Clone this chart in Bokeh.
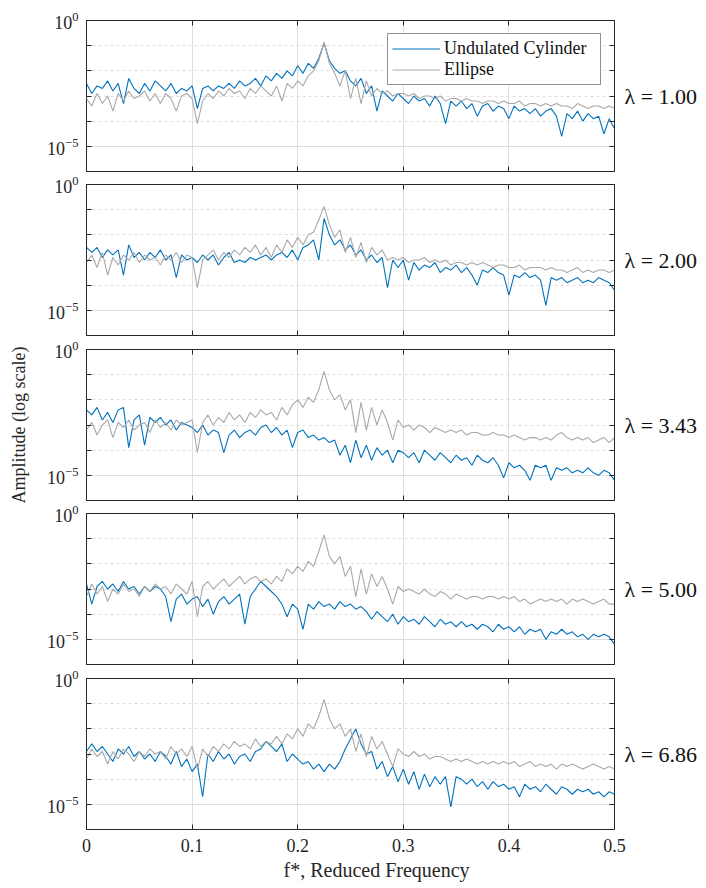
import numpy as np
from bokeh.plotting import figure
from bokeh.layouts import column
from bokeh.models import (FixedTicker, LogAxis, LinearAxis, Legend, LegendItem, Title,
                          CustomJSTickFormatter, Range1d)
from bokeh.embed import file_html
from bokeh.resources import INLINE

# reduced frequency grid (0 .. 0.5)
FREQ = [round(0.005 * i, 3) for i in range(101)]
LAMBDAS = ["1.00", "2.00", "3.43", "5.00", "6.86"]
X_TICKS = [0, 0.1, 0.2, 0.3, 0.4, 0.5]

# log10 of amplitude
UND_1 = [-2.5, -2.9, -2.6, -2.7, -2.4, -2.8, -2.5, -3.3, -2.3, -2.7,
         -2.9, -2.5, -2.8, -2.4, -2.6, -2.8, -2.5, -2.9, -2.7, -2.8,
         -2.6, -3.5, -2.7, -2.6, -2.8, -2.6, -2.7, -2.5, -2.7, -2.4,
         -2.6, -2.5, -2.3, -2.6, -2.2, -2.4, -2.1, -2.3, -2.0, -2.2,
         -1.8, -2.1, -1.7, -1.9, -1.5, -0.9, -1.6, -1.9, -2.1, -2.0,
         -2.4, -2.6, -2.3, -2.9, -2.6, -3.6, -2.8, -3.0, -3.2, -2.9,
         -3.1, -3.3, -3.0, -3.2, -3.1, -3.4, -3.0, -3.3, -4.1, -3.2,
         -3.4, -3.2, -3.5, -3.3, -3.8, -3.4, -3.3, -3.6, -3.4, -3.5,
         -3.9, -3.4, -3.6, -3.5, -3.7, -3.5, -3.8, -3.6, -3.5, -3.8,
         -4.6, -3.7, -3.9, -3.6, -4.0, -3.7, -3.9, -3.8, -4.5, -3.9,
         -4.3]
ELL_1 = [-3.1, -3.4, -2.9, -3.3, -3.0, -3.6, -2.9, -3.2, -2.8, -3.1,
         -3.0, -2.8, -3.2, -2.9, -3.3, -2.9, -3.1, -3.6, -3.0, -2.9,
         -3.1, -4.1, -3.2, -2.9, -3.1, -2.8, -3.0, -2.7, -2.9, -2.8,
         -3.1, -2.7, -2.9, -2.6, -2.8, -3.0, -2.6, -3.2, -2.5, -2.7,
         -2.4, -2.6, -2.2, -2.0, -1.6, -0.85, -1.7, -2.1, -2.6, -2.0,
         -3.1, -2.3, -3.3, -2.4, -3.0, -2.7, -2.9, -2.8, -3.0, -2.9,
         -2.9, -3.0, -2.9, -3.1, -3.0, -3.0, -3.1, -3.0, -3.2, -3.1,
         -3.1, -3.2, -3.1, -3.2, -3.2, -3.3, -3.2, -3.2, -3.3, -3.2,
         -3.3, -3.3, -3.2, -3.4, -3.3, -3.3, -3.4, -3.3, -3.4, -3.3,
         -3.4, -3.4, -3.5, -3.3, -3.4, -3.5, -3.4, -3.4, -3.5, -3.4,
         -3.5]
UND_2 = [-2.5, -2.7, -2.5, -2.9, -2.6, -2.8, -2.6, -3.6, -2.4, -2.9,
         -2.7, -3.0, -2.7, -2.9, -2.6, -3.0, -2.8, -3.7, -2.8, -3.0,
         -2.9, -3.1, -2.8, -3.0, -2.8, -3.2, -2.9, -2.7, -3.1, -3.0,
         -3.1, -2.9, -3.0, -2.9, -2.8, -3.0, -2.8, -2.7, -2.9, -2.6,
         -3.0, -2.5, -2.4, -2.2, -3.0, -1.35, -2.0, -2.4, -2.2, -2.6,
         -2.4, -2.8, -2.6, -3.0, -2.8, -3.1, -2.9, -4.1, -3.0, -3.3,
         -3.0, -3.8, -3.1, -3.4, -3.2, -3.3, -3.1, -3.5, -3.3, -3.4,
         -3.2, -3.5, -3.3, -3.6, -4.0, -3.4, -3.5, -3.3, -3.5, -3.6,
         -4.4, -3.6, -3.7, -3.5, -3.7, -3.6, -3.8, -4.8, -3.7, -3.8,
         -3.7, -3.9, -3.8, -3.7, -3.9, -3.8, -3.9, -3.7, -3.8, -3.9,
         -4.2]
ELL_2 = [-3.1, -2.8, -3.3, -2.7, -3.6, -2.9, -3.2, -2.8, -3.0, -2.7,
         -3.1, -2.8, -3.0, -2.9, -3.2, -2.8, -3.0, -2.7, -3.1, -2.8,
         -2.9, -4.1, -3.0, -2.8, -2.6, -3.0, -2.7, -2.9, -2.6, -2.8,
         -2.5, -2.7, -2.4, -2.8, -2.5, -2.9, -2.4, -2.7, -2.2, -2.5,
         -2.1, -2.4, -2.0, -1.9, -1.4, -0.87, -1.6, -2.1, -1.8, -2.7,
         -2.1, -2.9, -2.3, -3.1, -2.5, -2.8, -2.6, -3.0, -2.9, -3.0,
         -2.9, -3.1, -3.0, -3.0, -2.9, -3.1, -3.0, -3.1, -3.0, -3.2,
         -3.1, -3.1, -3.2, -3.1, -3.2, -3.1, -3.2, -3.3, -3.2, -3.2,
         -3.3, -3.3, -3.2, -3.4, -3.3, -3.3, -3.3, -3.4, -3.3, -3.4,
         -3.4, -3.5, -3.4, -3.3, -3.5, -3.4, -3.5, -3.4, -3.4, -3.5,
         -3.4]
UND_3 = [-2.4, -2.6, -2.3, -2.8, -2.5, -2.9, -2.4, -2.3, -3.9, -2.8,
         -2.6, -3.8, -2.7, -2.9, -2.7, -3.0, -2.8, -3.2, -2.9, -3.0,
         -3.1, -3.3, -3.0, -3.4, -3.2, -3.3, -4.1, -3.4, -3.2, -3.5,
         -3.3, -3.2, -3.4, -3.1, -3.0, -3.3, -3.1, -3.4, -3.2, -3.9,
         -3.3, -3.2, -3.5, -3.4, -3.6, -3.5, -3.7, -3.6, -4.2, -3.8,
         -4.5, -3.6, -4.3, -3.8, -4.4, -3.9, -4.2, -4.0, -4.5, -4.0,
         -4.1, -4.3, -4.1, -4.5, -4.0, -4.2, -4.4, -4.1, -4.3, -4.5,
         -4.2, -4.4, -4.3, -4.6, -4.2, -4.4, -4.5, -4.3, -4.6, -5.1,
         -4.5, -4.7, -4.6, -4.8, -5.2, -4.6, -4.7, -4.6, -5.2, -4.7,
         -4.8, -4.7, -4.9, -4.8, -4.9, -4.7, -4.9, -5.0, -4.8, -4.9,
         -5.2]
ELL_3 = [-3.2, -2.9, -3.4, -3.0, -2.8, -3.5, -2.9, -3.1, -2.8, -3.2,
         -3.0, -2.9, -3.3, -2.8, -3.1, -2.9, -3.2, -2.8, -3.0, -2.9,
         -2.8, -4.1, -2.9, -2.6, -3.0, -2.7, -2.9, -2.5, -2.8, -2.6,
         -2.9, -2.5, -2.7, -2.4, -2.6, -2.5, -2.8, -2.3, -2.6, -2.2,
         -2.0, -2.3, -1.9, -2.1, -1.6, -0.87, -1.6, -2.0, -1.8, -2.4,
         -2.0, -3.3, -2.1, -3.2, -2.3, -3.0, -2.4, -2.9, -3.6, -2.8,
         -3.1, -3.0, -3.2, -3.0, -3.1, -3.3, -3.1, -3.2, -3.3, -3.2,
         -3.3, -3.2, -3.4, -3.3, -3.3, -3.4, -3.4, -3.3, -3.4, -3.4,
         -3.5, -3.4, -3.5, -3.6, -3.5, -3.5, -3.6, -3.5, -3.6, -3.4,
         -3.3, -3.5, -3.6, -3.5, -3.6, -3.5, -3.7, -3.6, -3.5, -3.7,
         -3.5]
UND_4 = [-2.8, -3.6, -2.9, -2.7, -3.0, -2.8, -3.1, -2.7, -3.0, -2.9,
         -3.2, -2.9, -3.1, -2.9, -3.0, -3.3, -4.3, -3.4, -3.2, -3.6,
         -3.4, -3.3, -3.7, -3.4, -4.0, -3.5, -3.3, -3.6, -3.4, -3.2,
         -4.4, -3.3, -3.0, -2.7, -2.9, -3.1, -3.3, -3.6, -4.1, -3.6,
         -3.8, -4.6, -3.6, -3.8, -3.5, -3.7, -3.6, -3.8, -3.5, -3.7,
         -3.6, -3.8, -3.7, -3.9, -4.2, -3.9, -4.1, -4.3, -4.0, -4.4,
         -4.1, -4.3, -4.2, -4.4, -4.1, -4.3, -4.5, -4.2, -4.4, -4.3,
         -4.5, -4.3, -4.5, -4.4, -4.6, -4.4, -4.5, -4.7, -4.4, -4.6,
         -4.5, -4.7, -4.5, -4.8, -4.6, -4.7, -4.6, -5.0, -4.7, -4.8,
         -4.6, -4.8, -4.7, -4.9, -4.8, -5.0, -4.8, -4.9, -4.8, -4.9,
         -5.2]
ELL_4 = [-3.3, -2.8, -3.2, -2.9, -3.5, -3.0, -3.2, -2.8, -3.1, -3.0,
         -3.3, -2.9, -3.1, -2.8, -3.0, -2.9, -3.2, -2.8, -3.0, -3.2,
         -2.7, -4.1, -2.9, -2.7, -3.0, -2.8, -2.6, -2.9, -2.7, -2.5,
         -2.8, -2.6, -2.5, -2.7, -2.6, -2.8, -2.5, -2.7, -2.2, -2.4,
         -2.1, -2.3, -1.9, -2.1, -1.5, -0.85, -1.7, -2.0, -1.7, -2.5,
         -2.1, -3.3, -2.2, -3.2, -2.4, -2.9, -2.5, -3.0, -3.6, -2.9,
         -3.1, -3.0, -3.1, -3.2, -3.0, -3.2, -3.3, -3.1, -3.2, -3.4,
         -3.2, -3.3, -3.4, -3.3, -3.3, -3.4, -3.3, -3.3, -3.4, -3.3,
         -3.4, -3.3, -3.5, -3.4, -3.6, -3.5, -3.4, -3.5, -3.4, -3.5,
         -3.4, -3.6, -3.4, -3.5, -3.4, -3.5, -3.6, -3.5, -3.4, -3.6,
         -3.6]
UND_5 = [-2.9, -2.6, -2.9, -2.7, -3.0, -3.3, -2.8, -3.0, -2.7, -3.1,
         -2.9, -3.2, -3.0, -3.3, -2.9, -3.1, -3.4, -2.9, -3.5, -3.2,
         -3.7, -3.4, -4.7, -3.0, -3.3, -2.9, -3.2, -3.0, -3.4, -3.1,
         -3.0, -3.3, -2.9, -2.8, -2.5, -2.7, -2.9, -2.6, -3.3, -3.0,
         -3.2, -3.4, -3.3, -3.6, -3.4, -3.7, -3.4, -3.6, -3.3, -2.8,
         -2.4, -2.0, -2.6, -3.0, -2.9, -3.6, -3.3, -3.9, -3.5, -4.1,
         -3.6, -4.2, -3.7, -4.4, -3.8, -4.3, -3.9, -4.2, -3.9, -5.1,
         -3.9, -4.0, -4.2, -4.0, -4.3, -4.1, -4.4, -4.1, -4.3, -4.2,
         -4.4, -4.3, -4.7, -4.2, -4.4, -4.3, -4.5, -4.2, -4.4, -4.6,
         -4.3, -4.4, -4.6, -4.4, -4.5, -4.4, -4.6, -4.5, -4.7, -4.5,
         -4.6]
ELL_5 = [-3.2, -2.8, -3.1, -2.9, -3.4, -2.9, -3.2, -2.8, -3.0, -3.3,
         -2.9, -3.1, -2.8, -3.0, -2.9, -3.2, -2.7, -3.0, -2.8, -3.1,
         -2.7, -3.6, -2.8, -3.1, -2.7, -2.9, -2.6, -2.8, -2.5, -2.7,
         -2.6, -2.8, -2.4, -2.7, -2.5, -2.6, -2.3, -2.6, -2.2, -2.4,
         -2.0, -2.3, -1.8, -2.0, -1.5, -0.83, -1.6, -2.0, -1.8, -2.3,
         -2.0, -2.9, -2.2, -3.1, -2.3, -2.8, -2.5, -3.0, -3.5, -2.8,
         -3.0, -3.1, -2.9, -3.1, -3.0, -3.2, -3.1, -3.1, -3.2, -3.3,
         -3.2, -3.3, -3.2, -3.3, -3.4, -3.3, -3.4, -3.3, -3.4, -3.3,
         -3.4, -3.3, -3.5, -3.4, -3.3, -3.5, -3.4, -3.5, -3.4, -3.6,
         -3.4, -3.5, -3.4, -3.5, -3.6, -3.5, -3.4, -3.5, -3.6, -3.5,
         -3.6]

UND = [UND_1, UND_2, UND_3, UND_4, UND_5]
ELL = [ELL_1, ELL_2, ELL_3, ELL_4, ELL_5]

FONT = "Liberation Serif"
AX = "#262626"
BLUE = "#0072BD"
GRAY = "#a9a9a9"
GRID = "#dedede"

TOPS = [20, 10, 11, 10, 11]
BOTTOMS = [3, 3, 3, 3, 59]
FRAME_H = 151


def amp(exps):
    return [10.0 ** e for e in exps]


def hide_labels(axis):
    axis.major_label_text_font_size = "1px"
    axis.major_label_text_color = None
    axis.major_label_standoff = 0


figs = []
for k in range(5):
    p = figure(width=706, height=TOPS[k] + FRAME_H + BOTTOMS[k],
               x_range=Range1d(0, 0.5), y_range=Range1d(1e-6, 1.0),
               y_axis_type="log", output_backend="svg", toolbar_location=None,
               min_border_left=86, min_border_right=92,
               min_border_top=TOPS[k], min_border_bottom=BOTTOMS[k],
               background_fill_color="white", border_fill_color="white")
    p.outline_line_color = AX
    p.outline_line_width = 1

    yt = FixedTicker(ticks=[1e-5, 1.0], minor_ticks=[1e-6, 1e-5, 1e-4, 1e-3, 1e-2, 1e-1, 1.0])
    xt = FixedTicker(ticks=X_TICKS)

    # left axis
    ya = p.yaxis[0]
    ya.ticker = yt
    ya.axis_line_color = None
    ya.major_tick_in = 5
    ya.major_tick_out = 0
    ya.minor_tick_in = 5
    ya.minor_tick_out = 0
    ya.major_tick_line_color = AX
    ya.minor_tick_line_color = AX
    ya.major_label_text_font = FONT
    ya.major_label_text_font_size = "18px"
    ya.major_label_text_color = AX
    ya.major_label_standoff = 8
    if k == 2:
        ya.axis_label = "Amplitude (log scale)"
        ya.axis_label_text_font = FONT
        ya.axis_label_text_font_size = "18px"
        ya.axis_label_text_font_style = "normal"
        ya.axis_label_text_color = AX
        ya.axis_label_standoff = 15

    # bottom axis
    xa = p.xaxis[0]
    xa.ticker = xt
    xa.axis_line_color = None
    xa.major_tick_in = 5
    xa.major_tick_out = 0
    xa.minor_tick_line_color = None
    xa.major_tick_line_color = AX
    xa.formatter = CustomJSTickFormatter(code="return tick === 0 ? '0' : tick.toFixed(1);")
    xa.major_label_text_font = FONT
    xa.major_label_text_color = AX
    if k < 4:
        hide_labels(xa)
    else:
        xa.major_label_text_font_size = "18px"
        xa.major_label_standoff = 9

    # top and right tick-only axes
    top = LinearAxis(ticker=xt, axis_line_color=None, major_tick_in=5, major_tick_out=0,
                     major_tick_line_color=AX, minor_tick_line_color=None)
    hide_labels(top)
    p.add_layout(top, "above")
    right = LogAxis(ticker=yt, axis_line_color=None, major_tick_in=5, major_tick_out=0,
                    minor_tick_in=5, minor_tick_out=0,
                    major_tick_line_color=AX, minor_tick_line_color=AX)
    hide_labels(right)
    p.add_layout(right, "right")

    # lambda label as a single-tick axis on the right
    lam_axis = LogAxis(ticker=FixedTicker(ticks=[1e-3]), axis_line_color=None,
                       major_tick_line_color=None, minor_tick_line_color=None,
                       major_tick_in=0, major_tick_out=0,
                       formatter=CustomJSTickFormatter(code="return 'λ = %s';" % LAMBDAS[k]),
                       major_label_text_font=FONT, major_label_text_font_size="22px",
                       major_label_text_color="#111111", major_label_standoff=10)
    p.add_layout(lam_axis, "right")

    # grids
    p.xgrid.ticker = xt
    p.ygrid.ticker = yt
    p.xgrid.grid_line_color = GRID
    p.ygrid.grid_line_color = GRID
    p.ygrid.minor_grid_line_color = GRID
    p.ygrid.minor_grid_line_dash = "3 3"

    r_u = p.line(FREQ, amp(UND[k]), line_color=BLUE, line_width=1.1)
    r_e = p.line(FREQ, amp(ELL[k]), line_color=GRAY, line_width=1.1)

    if k == 0:
        leg = Legend(items=[LegendItem(label="Undulated Cylinder", renderers=[r_u]),
                            LegendItem(label="Ellipse", renderers=[r_e])],
                     location="top_right", margin=13, padding=4, spacing=0,
                     glyph_width=48, glyph_height=19, label_height=19, label_standoff=4,
                     label_width=152,
                     label_text_font=FONT, label_text_font_size="18px",
                     label_text_color="#111111",
                     border_line_color=AX, border_line_width=1,
                     background_fill_color="white", background_fill_alpha=1.0)
        p.add_layout(leg)

    if k == 4:
        p.add_layout(Title(text="f*, Reduced Frequency", align="left", offset=197,
                           text_font=FONT, text_font_size="20px", text_font_style="normal",
                           text_color=AX, standoff=5), "below")
    figs.append(p)

layout = column(*figs, spacing=0)
open("out.html", "w").write(file_html(layout, INLINE))
